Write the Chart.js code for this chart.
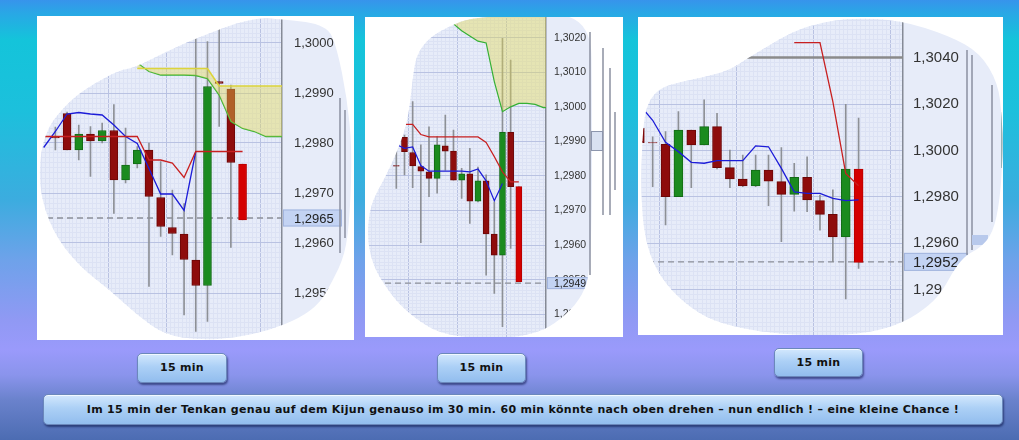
<!DOCTYPE html>
<html>
<head>
<meta charset="utf-8">
<title>Tenkan / Kijun</title>
<script src="https://cdn.jsdelivr.net/npm/chart.js@4/dist/chart.umd.min.js"></script>
<style>
html, body { margin: 0; padding: 0; }
body {
    width: 1019px; height: 440px; overflow: hidden; position: relative;
    background: linear-gradient(to bottom, #3794ec 0px, #2aa6e6 12px, #14c4da 40px, #1cc0dc 110px,
        #3cacdf 200px, #6ea2ea 260px, #9099f4 320px, #9a9afb 350px, #8a94ec 375px, #6a82cc 400px, #4c6cb2 440px);
    font-family: "DejaVu Sans", sans-serif;
}
.panel { position: absolute; background: #fff; }
.panel canvas { display: block; }
.btn {
    position: absolute; box-sizing: border-box;
    border: 1px solid #6b88bb; border-radius: 5px;
    background: linear-gradient(to bottom, #d3e8fd 0%, #acd0f6 45%, #92bdee 100%);
    box-shadow: 1px 2px 2px rgba(10, 20, 70, .55), inset 0 1px 0 rgba(255, 255, 255, .7);
    font: bold 11px "DejaVu Sans", sans-serif; letter-spacing: 0.3px;
    color: #111; text-align: center; white-space: nowrap;
}
</style>
</head>
<body>
<div class="panel" style="left:37px;top:16px;width:317px;height:324px"><canvas id="chart_1" width="317" height="324"></canvas></div>
<div class="panel" style="left:365px;top:17px;width:258px;height:320px"><canvas id="chart_2" width="258" height="320"></canvas></div>
<div class="panel" style="left:638px;top:17px;width:365px;height:318px"><canvas id="chart_3" width="365" height="318"></canvas></div>

<div class="btn" style="left:137px;top:353px;width:90px;height:30px;line-height:28px">15 min</div>
<div class="btn" style="left:437px;top:353px;width:89px;height:30px;line-height:28px">15 min</div>
<div class="btn" style="left:774px;top:348px;width:89px;height:29px;line-height:27px">15 min</div>
<div class="btn" style="left:43px;top:394px;width:960px;height:31px;line-height:29px">Im 15 min der Tenkan genau auf dem Kijun genauso im 30 min. 60 min könnte nach oben drehen – nun endlich ! – eine kleine Chance !</div>

<script type="text/javascript">
// ---------- chart 1 (15 min) : index = bar slot, null = no bar ----------
var p1Open  = [null, 1.29812, 1.29859, 1.29786, 1.29818, 1.29804, 1.29825, 1.29726, 1.29758, 1.29786, 1.29691, 1.29631, 1.29618, 1.29566, 1.29515, 1.29923, 1.29908, 1.29758];
var p1High  = [null, 1.29832, 1.29862, 1.29836, 1.29833, 1.29840, 1.29877, 1.29830, 1.29793, 1.29800, 1.29763, 1.29706, 1.29679, 1.30016, 1.30003, 1.30029, 1.29916, 1.29758];
var p1Low   = [null, 1.29786, 1.29786, 1.29766, 1.29733, 1.29800, 1.29659, 1.29720, 1.29750, 1.29513, 1.29613, 1.29576, 1.29456, 1.29423, 1.29443, 1.29833, 1.29591, 1.29646];
var p1Close = [null, 1.29810, 1.29786, 1.29818, 1.29804, 1.29825, 1.29726, 1.29756, 1.29786, 1.29693, 1.29633, 1.29619, 1.29567, 1.29515, 1.29913, 1.29919, 1.29761, 1.29646];
var p1Tenkan = [1.29791, 1.29823, 1.29858, 1.29861, 1.29858, 1.29856, 1.29836, 1.29813, 1.29799, 1.29749, 1.29698, 1.29698, 1.29665, 1.29783];
var p1Kijun  = [1.29813, 1.29813, 1.29813, 1.29813, 1.29813, 1.29813, 1.29813, 1.29813, 1.29813, 1.29766, 1.29766, 1.29760, 1.29731, 1.29783, 1.29783, 1.29783, 1.29783, 1.29783];
var p1SpanA  = [null, null, null, null, null, null, null, null, 1.29949, 1.29949, 1.29949, 1.29949, 1.29949, 1.29949, 1.29949, 1.29914, 1.29914, 1.29914, 1.29914, 1.29914, 1.29914, 1.29914];
var p1SpanB  = [null, null, null, null, null, null, null, null, 1.29960, 1.29943, 1.29936, 1.29936, 1.29936, 1.29935, 1.29929, 1.29896, 1.29843, 1.29829, 1.29823, 1.29813, 1.29813, 1.29813];
var p1YLabels = [1.2950, 1.2960, 1.2970, 1.2980, 1.2990, 1.3000];
var p1Level = 1.2965;

// ---------- chart 2 (30 min) ----------
var p2Open  = [1.29830, 1.29912, 1.29868, 1.29827, 1.29812, 1.29793, 1.29887, 1.29872, 1.29788, 1.29806, 1.29727, 1.29786, 1.29632, 1.29571, 1.29926, 1.29769];
var p2High  = [1.29885, 1.29918, 1.30015, 1.29890, 1.29942, 1.29914, 1.29976, 1.29933, 1.29822, 1.29880, 1.29826, 1.29803, 1.29725, 1.30198, 1.30135, 1.29769];
var p2Low   = [1.29764, 1.29803, 1.29766, 1.29607, 1.29740, 1.29750, 1.29817, 1.29788, 1.29735, 1.29663, 1.29725, 1.29513, 1.29460, 1.29364, 1.29590, 1.29494];
var p2Close = [1.29828, 1.29870, 1.29829, 1.29814, 1.29793, 1.29890, 1.29872, 1.29788, 1.29806, 1.29727, 1.29786, 1.29632, 1.29571, 1.29926, 1.29769, 1.29494];
var p2Tenkan = [1.29891, 1.29880, 1.29884, 1.29830, 1.29814, 1.29814, 1.29814, 1.29814, 1.29814, 1.29812, 1.29820, 1.29786, 1.29728, 1.29778];
var p2Kijun  = [null, 1.29949, 1.29949, 1.29920, 1.29913, 1.29913, 1.29913, 1.29913, 1.29913, 1.29913, 1.29913, 1.29897, 1.29856, 1.29812, 1.29783, 1.29783];
var p2SpanB  = [null, null, null, null, null, null, null, 1.30240, 1.30220, 1.30205, 1.30190, 1.30185, 1.30073, 1.29986, 1.30000, 1.30010, 1.30010, 1.30007, 1.29998, 1.29998];
var p2YLabels = [1.2940, 1.2950, 1.2960, 1.2970, 1.2980, 1.2990, 1.3000, 1.3010, 1.3020];
var p2Level = 1.2949;

// ---------- chart 3 (60 min) ----------
var p3Open  = [1.30095, 1.30034, 1.30026, 1.29801, 1.30088, 1.30024, 1.30103, 1.29926, 1.29877, 1.29847, 1.29916, 1.29866, 1.29811, 1.29884, 1.29784, 1.29725, 1.29628, 1.29920];
var p3High  = [1.30095, 1.30059, 1.30081, 1.30167, 1.30088, 1.30218, 1.30160, 1.30002, 1.29980, 1.29980, 1.29980, 1.30012, 1.29945, 1.29973, 1.29808, 1.29830, 1.30199, 1.30139];
var p3Low   = [1.30034, 1.29844, 1.29679, 1.29801, 1.29840, 1.30024, 1.29920, 1.29840, 1.29844, 1.29844, 1.29762, 1.29607, 1.29739, 1.29736, 1.29657, 1.29521, 1.29360, 1.29492];
var p3Close = [1.30034, 1.30032, 1.29801, 1.30088, 1.30024, 1.30103, 1.29926, 1.29877, 1.29847, 1.29916, 1.29868, 1.29811, 1.29884, 1.29787, 1.29725, 1.29628, 1.29920, 1.29518];
var p3Tenkan = [1.30196, 1.30130, 1.30035, 1.29995, 1.29949, 1.29945, 1.29956, 1.29956, 1.29956, 1.30020, 1.30016, 1.29923, 1.29822, 1.29815, 1.29815, 1.29794, 1.29784, 1.29787];
var p3Kijun  = [null, null, null, null, null, null, null, null, null, null, null, null, 1.30465, 1.30465, 1.30465, 1.30210, 1.29901, 1.29848];
var p3Resist = [null, null, null, null, null, null, null, null, 1.3040, 1.3040, 1.3040, 1.3040, 1.3040, 1.3040, 1.3040, 1.3040, 1.3040, 1.3040, 1.3040, 1.3040, 1.3040, 1.3040];
var p3YLabels = [1.2940, 1.2960, 1.2980, 1.3000, 1.3020, 1.3040];
var p3Level = 1.2952;

var DOWN = "#8e0c0c", UP = "#1b8b1f", LIVE = "#d40000";
var CLOUD = "rgba(226,218,84,0.42)";

function fmt(v) { return v.toFixed(4).replace(".", ","); }

function series(arr) {
    return arr.map(function (v, i) { return {x: i, y: v}; });
}

function gridTicks(from, to, anchor, step, majors) {
    var out = [];
    var n0 = Math.ceil((from - anchor) / step - 1e-6);
    var n1 = Math.floor((to - anchor) / step + 1e-6);
    for (var n = n0; n <= n1; n++) {
        var v = +(anchor + n * step).toFixed(6);
        var major = majors.some(function (m) { return Math.abs(m - v) < step / 10; });
        out.push({value: v, major: major});
    }
    return out;
}

function gridColor(c) {
    return c.tick && c.tick.major ? "#b9c2e2" : "#dce2f4";
}

// smooth closed outline through the points (the cut-out shape of each screenshot)
function blobPath(ctx, pts) {
    var n = pts.length;
    function mid(a, b) { return [(a[0] + b[0]) / 2, (a[1] + b[1]) / 2]; }
    var m = mid(pts[n - 1], pts[0]);
    ctx.beginPath();
    ctx.moveTo(m[0], m[1]);
    for (var i = 0; i < n; i++) {
        var q = mid(pts[i], pts[(i + 1) % n]);
        ctx.quadraticCurveTo(pts[i][0], pts[i][1], q[0], q[1]);
    }
    ctx.closePath();
}

function strokeBars(ctx, list) {
    list.forEach(function (l) {
        ctx.strokeStyle = l[3] || "#8b91a1";
        ctx.lineWidth = 1.5;
        ctx.beginPath();
        ctx.moveTo(l[0], l[1]);
        ctx.lineTo(l[0], l[2]);
        ctx.stroke();
    });
}

function panelPlugin(p) {
    return {
        id: "panel",
        beforeDraw: function (chart) {
            var ctx = chart.ctx;
            ctx.save();
            ctx.fillStyle = "#fff";
            ctx.fillRect(0, 0, chart.width, chart.height);
            blobPath(ctx, p.blob);
            ctx.fillStyle = "#e7ecf9";
            ctx.fill();
            ctx.clip();
        },
        afterDraw: function (chart) {
            var ctx = chart.ctx, area = chart.chartArea;
            var py = chart.scales.y.getPixelForValue(p.level);
            ctx.fillStyle = "#c3d3f3";
            ctx.fillRect(area.right + 1, py - p.boxH / 2, p.boxW, p.boxH);
            ctx.strokeStyle = "#a3b5de";
            ctx.lineWidth = 1;
            ctx.strokeRect(area.right + 1.5, py - p.boxH / 2 + 0.5, p.boxW, p.boxH - 1);
            ctx.fillStyle = "#222";
            ctx.font = p.fontSize + "px 'Liberation Sans', Arial, sans-serif";
            ctx.textBaseline = "middle";
            ctx.textAlign = "left";
            ctx.fillText(fmt(p.level), area.right + p.labelPad, py + 1);
            strokeBars(ctx, p.decorIn || []);
            (p.boxesIn || []).forEach(function (b) {
                ctx.fillStyle = b[4]; ctx.fillRect(b[0], b[1], b[2], b[3]);
            });
            ctx.restore();
            strokeBars(ctx, p.decorOut || []);
            (p.boxesOut || []).forEach(function (b) {
                ctx.fillStyle = b[4]; ctx.fillRect(b[0], b[1], b[2], b[3]);
                ctx.strokeStyle = "#8d96ad"; ctx.lineWidth = 1;
                ctx.strokeRect(b[0] + 0.5, b[1] + 0.5, b[2] - 1, b[3] - 1);
            });
        }
    };
}

function createChart(id, p) {
    var bodies = [], wicks = [], fills = [], borders = [];
    var last = p.open.length - 1;
    for (var i = 0; i < p.open.length; i++) {
        if (p.open[i] == null) continue;
        bodies.push({x: i, y: [p.open[i], p.close[i]]});
        wicks.push({x: i, y: [p.low[i], p.high[i]]});
        var up = p.close[i] > p.open[i];
        fills.push(up ? UP : (i === last ? LIVE : DOWN));
        borders.push(up ? "#136a16" : (i === last ? "#b80000" : "#6c0606"));
    }
    var datasets = [
        {type: "line", data: [{x: p.xMin, y: p.level}, {x: p.xMax, y: p.level}], borderColor: "#8b8f98",
         borderWidth: 1.3, borderDash: [6, 4], pointRadius: 0, fill: false, order: 6},
        {type: "bar", data: wicks, backgroundColor: "#8d9096", barThickness: 1, grouped: false, order: 5},
        {type: "bar", data: bodies, backgroundColor: fills, borderColor: borders, borderWidth: 1,
         borderSkipped: false, barThickness: p.bodyW, grouped: false, order: 4}
    ];
    p.extra.forEach(function (d) {
        datasets.push(Object.assign({type: "line", pointRadius: 0, tension: 0, fill: false, order: 1}, d));
    });
    return new Chart(document.getElementById(id).getContext("2d"), {
        type: "line",
        data: {datasets: datasets},
        options: {
            responsive: false,
            animation: false,
            devicePixelRatio: 1,
            events: [],
            layout: {padding: 0, autoPadding: false},
            plugins: {legend: {display: false}, tooltip: {enabled: false}},
            scales: {
                x: {
                    type: "linear", min: p.xMin, max: p.xMax, bounds: "data", offset: false,
                    afterBuildTicks: function (s) { s.ticks = gridTicks(p.xMin, p.xMax, p.xMajors[0], p.xStep, p.xMajors); },
                    afterFit: function (s) { s.height = 0; s.paddingLeft = 0; s.paddingRight = 0; },
                    grid: {drawTicks: false, offset: false, color: gridColor},
                    border: {display: false},
                    ticks: {display: false, autoSkip: false}
                },
                y: {
                    type: "linear", position: "right", min: p.yMin, max: p.yMax, bounds: "data",
                    afterBuildTicks: function (s) { s.ticks = gridTicks(p.yMin, p.yMax, p.yLabels[0], p.yStep, p.yLabels); },
                    afterFit: function (s) { s.width = p.axisW; s.paddingTop = 0; s.paddingBottom = 0; },
                    grid: {drawTicks: false, color: gridColor},
                    border: {color: "#858a96", width: 1.5},
                    ticks: {
                        autoSkip: false, padding: p.labelPad, color: "#333",
                        font: {family: "'Liberation Sans', Arial, sans-serif", size: p.fontSize},
                        callback: function (v, i, t) { return t[i] && t[i].major ? fmt(v) : ""; }
                    }
                }
            }
        },
        plugins: [panelPlugin(p)]
    });
}

createChart("chart_1", {
    open: p1Open, high: p1High, low: p1Low, close: p1Close, level: p1Level, yLabels: p1YLabels,
    yMin: 1.29406, yMax: 1.30054, yStep: 0.0001, xMin: -0.57, xMax: 20.37, xStep: 1 / 3, xMajors: [5.5, 10.5, 18.5],
    axisW: 72, labelPad: 12, fontSize: 13, bodyW: 8, boxW: 58, boxH: 17,
    extra: [
        {data: series(p1SpanA), borderColor: "#dcd43c", borderWidth: 1.6, fill: "+1", backgroundColor: CLOUD, order: 2},
        {data: series(p1SpanB), borderColor: "#35b035", borderWidth: 1.3, order: 2},
        {data: series(p1Kijun), borderColor: "#c82020", borderWidth: 1.3},
        {data: series(p1Tenkan), borderColor: "#1c1cd8", borderWidth: 1.3}
    ],
    blob: [[1, 171], [6, 117], [33, 84], [58, 67], [83, 54], [97, 52], [133, 34], [160, 22], [213, 2], [247, 3],
           [290, 9], [300, 32], [310, 82], [315, 132], [313, 199], [308, 239], [295, 266], [283, 287], [263, 302],
           [233, 314], [198, 322], [163, 324], [128, 319], [100, 299], [73, 274], [43, 251], [16, 217]],
    decorIn: [[303, 82, 237], [308, 94, 222]]
});

createChart("chart_2", {
    open: p2Open, high: p2High, low: p2Low, close: p2Close, level: p2Level, yLabels: p2YLabels,
    yMin: 1.29334, yMax: 1.30260, yStep: 0.0001, xMin: -3.836, xMax: 18.33, xStep: 0.5, xMajors: [1.5, 7.5, 13.5],
    axisW: 77, labelPad: 8, fontSize: 10.5, bodyW: 6, boxW: 40, boxH: 12,
    extra: [
        {data: series(p2SpanB), borderColor: "#35b035", borderWidth: 1.2, fill: "end", backgroundColor: CLOUD, order: 2},
        {data: series(p2Kijun), borderColor: "#c82020", borderWidth: 1.2},
        {data: series(p2Tenkan), borderColor: "#1c1cd8", borderWidth: 1.2}
    ],
    blob: [[2, 223], [5, 188], [20, 161], [33, 133], [43, 103], [47, 68], [51, 38], [65, 20], [85, 9], [105, 1],
           [155, -2], [226, -2], [227, 83], [227, 183], [225, 258], [215, 283], [195, 303], [175, 315], [145, 321],
           [105, 321], [75, 316], [55, 305], [35, 288], [23, 273], [9, 251]],
    decorOut: [[225, 15, 258], [238, 31, 198], [245, 51, 198], [250, 95, 173]],
    boxesOut: [[226, 114, 12, 20, "#d9e1f1"]]
});

createChart("chart_3", {
    open: p3Open, high: p3High, low: p3Low, close: p3Close, level: p3Level, yLabels: p3YLabels,
    yMin: 1.29205, yMax: 1.30575, yStep: 0.0002, xMin: -0.14, xMax: 20.45, xStep: 1 / 3, xMajors: [1.5, 7.5, 13.5, 19.5],
    axisW: 100, labelPad: 10, fontSize: 15, bodyW: 9, boxW: 63, boxH: 18,
    extra: [
        {data: series(p3Resist), borderColor: "#8a8a8a", borderWidth: 2.5, order: 3},
        {data: series(p3Kijun), borderColor: "#c82020", borderWidth: 1.3},
        {data: series(p3Tenkan), borderColor: "#1c1cd8", borderWidth: 1.3}
    ],
    blob: [[5, 108], [10, 85], [22, 71], [42, 65], [67, 60], [92, 53], [110, 41], [132, 28], [152, 16], [177, 7],
           [212, 1], [262, 3], [312, 19], [342, 36], [360, 66], [364, 100], [365, 133], [362, 183], [355, 216],
           [342, 231], [328, 238], [317, 251], [305, 273], [292, 288], [267, 305], [232, 316], [182, 319],
           [132, 316], [92, 309], [62, 298], [32, 273], [14, 245], [5, 211], [3, 163]],
    decorIn: [[329, 33, 238], [334, 38, 233], [354, 68, 205], [364, 95, 151, "#7d9f9f"]],
    boxesIn: [[334, 218, 16, 10, "#b8c9ec"]]
});
</script>
</body>
</html>
